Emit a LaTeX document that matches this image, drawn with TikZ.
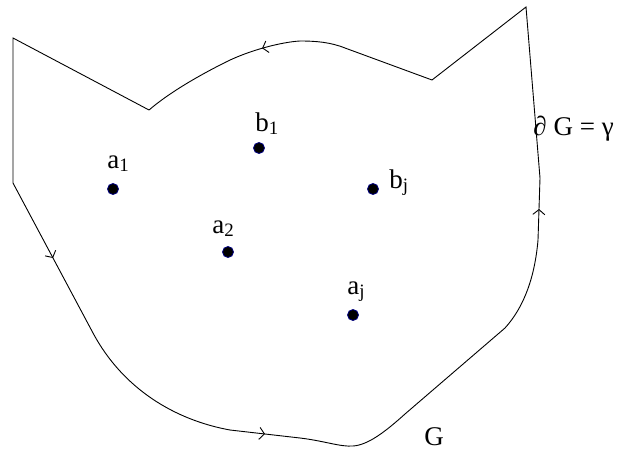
\documentclass[tikz,border=0pt]{standalone}
\usepackage{fontspec}
\setmainfont{Liberation Serif}
\usetikzlibrary{arrows.meta,decorations.markings}
\definecolor{navy}{RGB}{0,0,128}
\tikzset{
  pt/.style={circle, fill=black, draw=navy, line width=0.8pt, inner sep=0pt, minimum size=11pt},
  lbl/.style={inner sep=0pt, anchor=base west},
  midarrow/.style={postaction={decorate},
    decoration={markings, mark=at position 0.5 with {\arrow{Straight Barb[length=5pt,width=12pt]}}}}
}
\begin{document}
\begin{tikzpicture}[x=1pt, y=-1pt, line width=0.9pt, font=\fontsize{27}{32}\selectfont]
\useasboundingbox (0,0) rectangle (618,452);
% boundary of G, run counter-clockwise
\draw (149,110) -- (13,38) -- (13,183);
\draw[midarrow] (13,183) -- (93,333);
\draw (93,333) .. controls (123,389) and (175,420) .. (230,430);
\draw[midarrow] (230,430) -- (300,438);
\draw (300,438) .. controls (325,441) and (340,447) .. (353,446)
  .. controls (368,445) and (385,432) .. (405,414) -- (505,328)
  .. controls (525,306) and (535,275) .. (538,240);
\draw[midarrow] (538,240) -- (540,178);
\draw (540,178) -- (526,7) -- (432,80) -- (345,48)
  .. controls (330,42) and (315,41) .. (300,41);
\draw[midarrow] (300,41) .. controls (282,42) and (250,50) .. (226,62);
\draw (226,62) .. controls (200,75) and (170,92) .. (149,110);
% points
\node[pt] (a1) at (113,189) {};
\node[pt] (a2) at (228,252) {};
\node[pt] (aj) at (353,315) {};
\node[pt] (b1) at (259,148) {};
\node[pt] (bj) at (373,189) {};
\node[lbl] (ta1) at (107,168) {a\textsubscript{1}};
\node[lbl] (ta2) at (212,233) {a\textsubscript{2}};
\node[lbl] (taj) at (347,294) {a\textsubscript{j}};
\node[lbl] (tb1) at (255,131) {b\textsubscript{1}};
\node[lbl] (tbj) at (389,188) {b\textsubscript{j}};
% names
\node[lbl] (dG) at (533,135) {∂ G = γ};
\node[lbl] (G) at (424,445) {G};
\end{tikzpicture}
\end{document}
